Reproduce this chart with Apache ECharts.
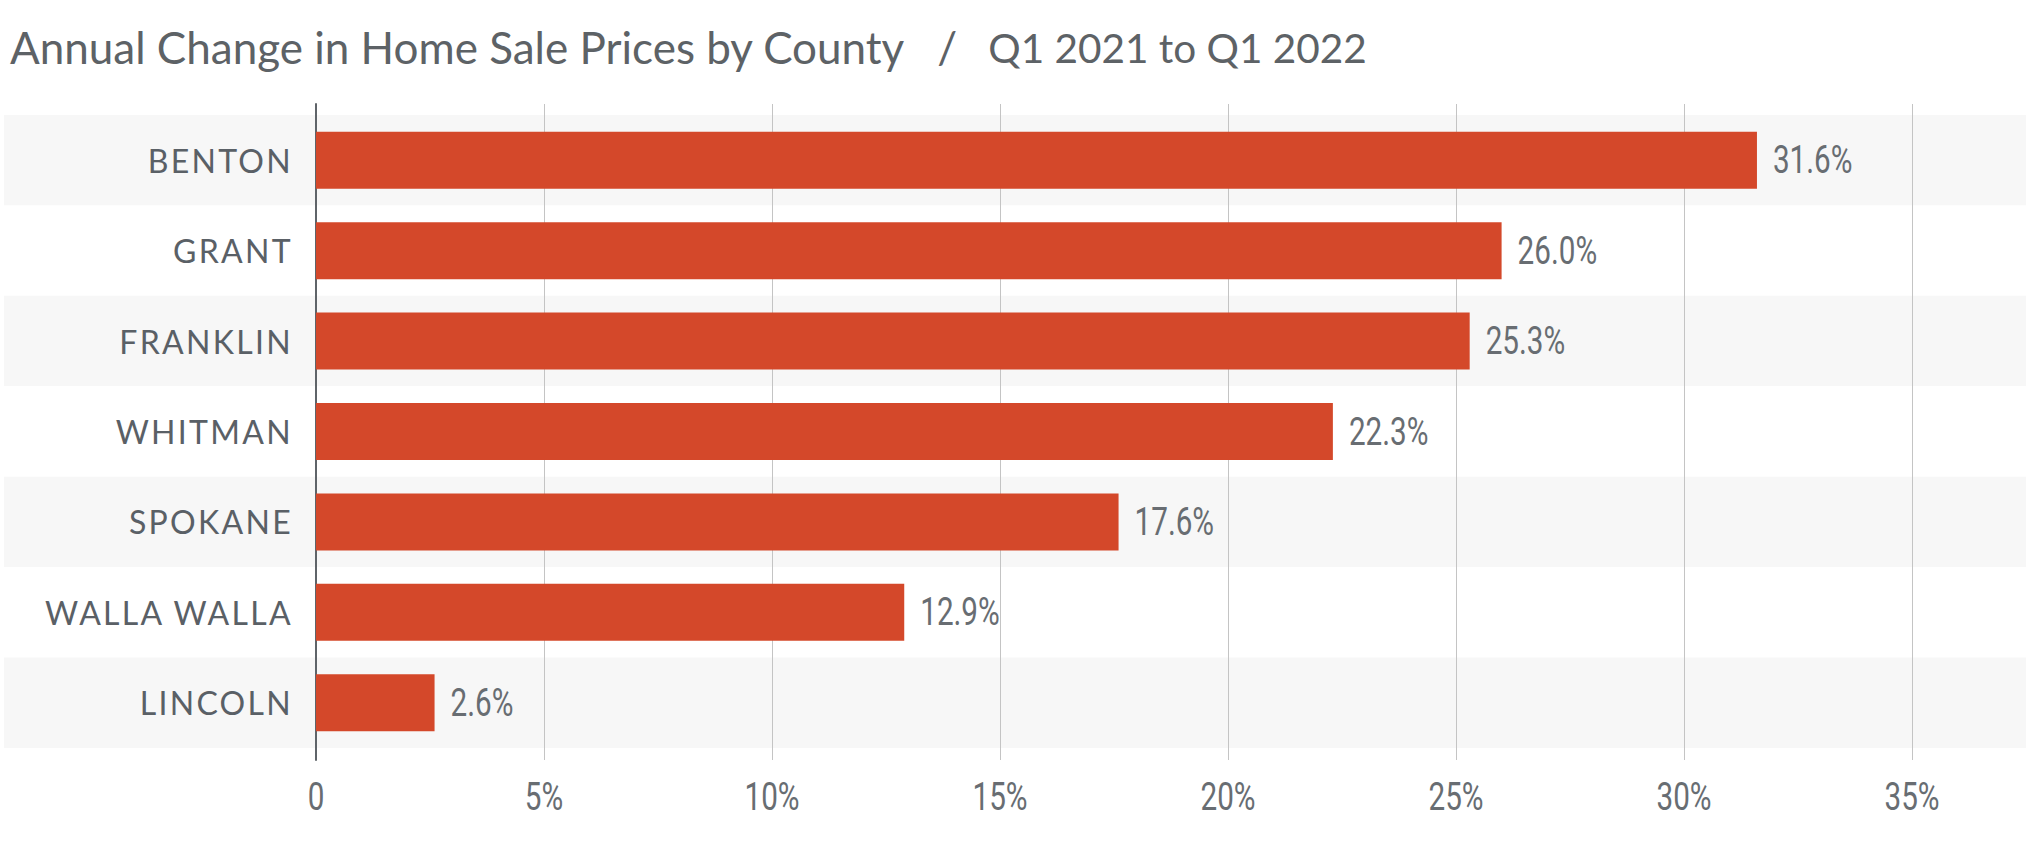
<!DOCTYPE html>
<html>
<head>
<meta charset="utf-8">
<script src="https://cdn.jsdelivr.net/npm/echarts@6/dist/echarts.min.js"></script>
<style>
html,body{margin:0;padding:0;background:#fff;}
#chart{width:2030px;height:848px;}
#chart text[style*="Lato"][text-anchor="end"], #chart text[font-family*="Lato"][text-anchor="end"]{letter-spacing:2.3px;}
</style>
</head>
<body>
<div id="chart"></div>
<script>
const titleMain = 'Annual Change in Home Sale Prices by County';
const titleSep = '/';
const titlePeriod = 'Q1 2021 to Q1 2022';
const counties = ['BENTON', 'GRANT', 'FRANKLIN', 'WHITMAN', 'SPOKANE', 'WALLA WALLA', 'LINCOLN'];
const changes = [31.6, 26.0, 25.3, 22.3, 17.6, 12.9, 2.6];
const xTicks = [0, 5, 10, 15, 20, 25, 30, 35];

const numFont = 'Roboto';
const chart = echarts.init(document.getElementById('chart'), null, {renderer: 'svg'});
const xMin = xTicks[0], xMax = xTicks[xTicks.length - 1], xStep = xTicks[1] - xTicks[0];
const titleColor = '#5d6266';

chart.setOption({
  animation: false,
  backgroundColor: '#ffffff',
  title: {
    text: '{a|' + titleMain + '}{s|' + titleSep + '}{b|' + titlePeriod + '}',
    left: 5, top: 20,
    textStyle: {
      fontWeight: 'normal',
      rich: {
        a: {fontFamily: 'Lato', fontWeight: 'normal', fontSize: 44, color: titleColor},
        s: {fontFamily: 'Lato', fontWeight: 'normal', fontSize: 44, color: titleColor, padding: [0, 31, 0, 32]},
        b: {fontFamily: 'Lato', fontWeight: 'normal', fontSize: 40.5, color: titleColor}
      }
    }
  },
  grid: [
    {left: 316, top: 104, width: 1596, height: 656},
    {left: 4, right: 4, top: 115, height: 633},
    {left: 316, top: 115, width: 1596, height: 633}
  ],
  xAxis: [
    {gridIndex: 0, type: 'value', min: xMin, max: xMax, interval: xStep, z: 1,
     axisLine: {show: false}, axisTick: {show: false},
     splitLine: {show: true, lineStyle: {color: '#c4c4c4', width: 1}},
     axisLabel: {margin: 18, fontFamily: numFont, fontSize: 38, color: '#686d72',
       formatter: v => v === 0 ? '0' : v + '%'}},
    {gridIndex: 1, type: 'value', show: false},
    {gridIndex: 2, type: 'value', min: xMin, max: xMax, show: false}
  ],
  yAxis: [
    {gridIndex: 0, type: 'value', min: 0, max: 1, z: 1,
     axisLine: {show: true, lineStyle: {color: '#5f6469', width: 2}},
     axisTick: {show: false}, axisLabel: {show: false}, splitLine: {show: false}},
    {gridIndex: 1, type: 'category', data: counties, inverse: true, z: 0,
     axisLine: {show: false}, axisTick: {show: false}, axisLabel: {show: false},
     splitLine: {show: false},
     splitArea: {show: true, areaStyle: {color: ['#f7f7f7', '#ffffff']}}},
    {gridIndex: 2, type: 'category', data: counties, inverse: true, z: 2,
     axisLine: {show: false}, axisTick: {show: false}, splitLine: {show: false},
     axisLabel: {margin: 23, fontFamily: 'Lato', fontSize: 32, color: '#5a6066'}}
  ],
  series: [{
    type: 'bar', xAxisIndex: 2, yAxisIndex: 2, z: 3,
    data: changes,
    barCategoryGap: '37%',
    itemStyle: {color: '#d4482a'},
    label: {show: true, position: 'right', distance: 16,
      fontFamily: numFont, fontSize: 38, color: '#686d72',
      formatter: p => p.value.toFixed(1) + '%'}
  }]
});

// The reference uses a condensed numeral face; narrow the Roboto number texts.
function condenseNumbers() {
  document.querySelectorAll('#chart text').forEach(t => {
    if (t.getAttribute('data-cond')) return;
    const fam = getComputedStyle(t).fontFamily || '';
    if (fam.indexOf('Roboto') < 0) return;
    const len = t.getComputedTextLength();
    if (!len) return;
    t.setAttribute('textLength', (len * 0.78).toFixed(2));
    t.setAttribute('lengthAdjust', 'spacingAndGlyphs');
    t.setAttribute('data-cond', '1');
  });
}
condenseNumbers();
chart.on('finished', condenseNumbers);
setTimeout(condenseNumbers, 50);
</script>
</body>
</html>
